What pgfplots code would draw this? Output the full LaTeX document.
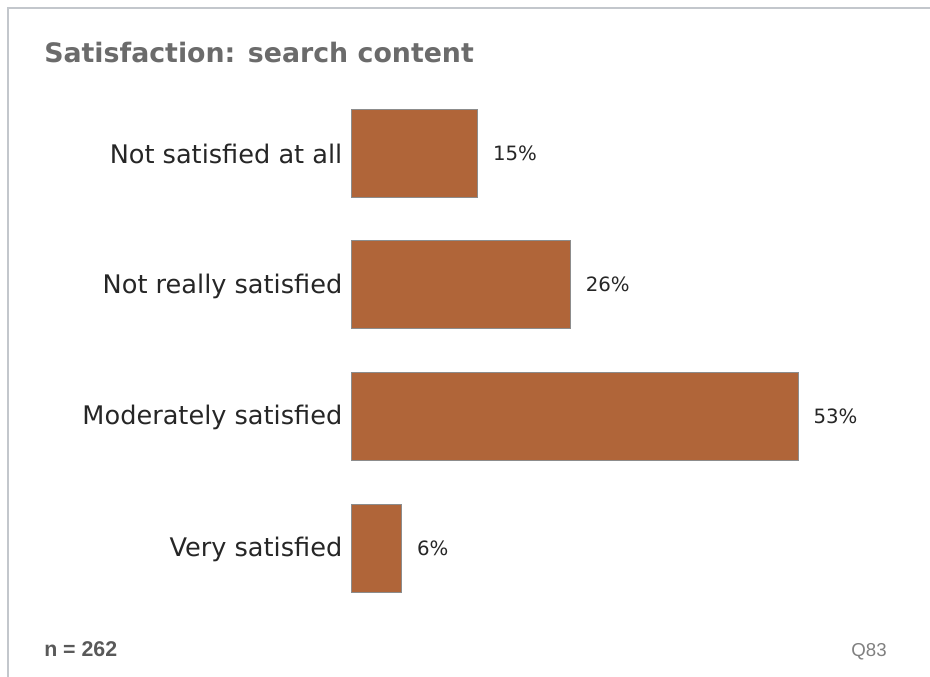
\documentclass[border=0pt]{standalone}
\usepackage{pgfplots}
\pgfplotsset{compat=1.18}
\usepackage{fontspec}
\setmainfont{DejaVu Sans}
\newfontfamily\lib{Liberation Sans}
\definecolor{barfill}{HTML}{B06539}
\definecolor{bordergray}{HTML}{C3C7CC}
\begin{document}
\begin{tikzpicture}[x=0.75pt,y=0.75pt]
\path[use as bounding box] (0,0) rectangle (930,677);
\draw[bordergray,line width=2.2pt] (8,-2) -- (8,669) -- (932,669);
\node[anchor=base west,inner sep=0pt,text=black!58,font=\fontsize{20.1}{24}\selectfont\bfseries] at (44,614) {Satisfaction: search content};
\node[anchor=base west,inner sep=0pt,text=black!65,font=\lib\fontsize{16}{18}\selectfont\bfseries] at (44,21) {n = 262};
\node[anchor=base east,inner sep=0pt,text=black!50,font=\lib\fontsize{14}{16}\selectfont] at (887,21) {Q83};
\begin{axis}[
  at={(263.25pt,442.35pt)}, anchor=north west,
  scale only axis, width=335.25pt, height=395pt,
  xbar, xmin=0, xmax=53, ymin=-0.5, ymax=3.5, y dir=reverse,
  bar width=66pt,
  axis line style={draw=none}, major tick length=0pt,
  xtick=\empty, ytick={0,1,2,3},
  /pgf/number format/assume math mode=true,
  yticklabels={Not satisfied at all,Not really satisfied,Moderately satisfied,Very satisfied},
  yticklabel style={font=\fontsize{19.2}{21}\selectfont, text=black!85, xshift=-3pt, yshift=-1pt},
  nodes near coords={\pgfmathprintnumber{\pgfplotspointmeta}\%},
  nodes near coords style={anchor=west, xshift=8pt, font=\fontsize{14.8}{16}\selectfont, text=black!85},
  clip=false,
]
\addplot[fill=barfill, draw=black!45, line width=0.6pt] coordinates {(15,0) (26,1) (53,2) (6,3)};
\end{axis}
\end{tikzpicture}
\end{document}
